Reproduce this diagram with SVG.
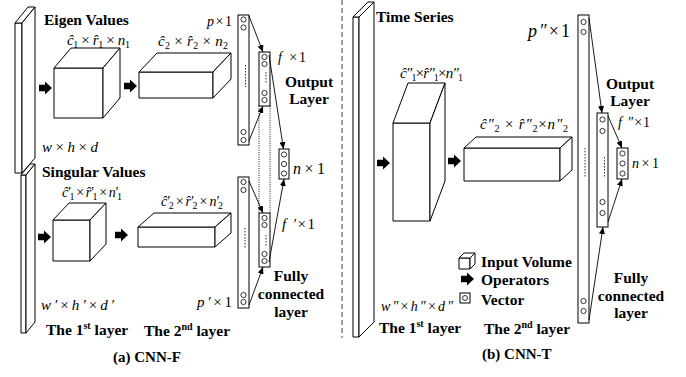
<svg xmlns="http://www.w3.org/2000/svg" width="686" height="377" viewBox="0 0 686 377">
<defs>
<style>
.b{fill:#fff;stroke:#000;stroke-width:1;stroke-linejoin:miter}
.c{fill:#fff;stroke:#000;stroke-width:0.8}
.t{font-family:Liberation Serif, DejaVu Serif, serif;font-weight:bold;font-size:15.5px;fill:#000}
.m{font-family:Liberation Serif, DejaVu Serif, serif;font-style:italic;font-size:15px;fill:#000}
.s{font-style:normal;font-size:10px}
.u{font-style:normal}
.con{stroke:#000;stroke-width:0.9;fill:none;marker-end:url(#ah)}
.dt{stroke:#000;stroke-width:0.9;stroke-dasharray:1 1.3;fill:none}
.dv{stroke:#000;stroke-width:0.8;stroke-dasharray:1.5 1.5;fill:none}
</style>
<marker id="ah" markerUnits="userSpaceOnUse" markerWidth="7" markerHeight="6" refX="7" refY="3" orient="auto"><path d="M0,0 L7,3 L0,6 Z" fill="#000"/></marker>
<path id="op" d="M0,-3.3 H6 V-6.5 L13,0 L6,6.5 V3.3 H0 Z" fill="#000"/>
</defs>
<rect width="686" height="377" fill="#fff"/>

<line x1="342" y1="0" x2="342" y2="338" stroke="#444" stroke-width="1" stroke-dasharray="5 3"/>

<g id="input-singular">
<path class="b" d="M21,175 H26 V333 H21 Z"/>
<path class="b" d="M21,175 L30,164 H35 L26,175 Z"/>
<path class="b" d="M26,175 L35,164 V322 L26,333 Z"/>
</g>
<g id="input-eigen">
<path class="b" d="M15,23 H22 V173 H15 Z"/>
<path class="b" d="M15,23 L28,7 H35 L22,23 Z"/>
<path class="b" d="M22,23 L35,7 V158 L22,173 Z"/>
</g>
<g id="eigen-conv1">
<path class="b" d="M54,68 H103 V118 H54 Z"/>
<path class="b" d="M54,68 L71,48 H120 L103,68 Z"/>
<path class="b" d="M103,68 L120,48 V98 L103,118 Z"/>
</g>
<g id="eigen-conv2">
<path class="b" d="M139,72 H213 V98 H139 Z"/>
<path class="b" d="M139,72 L157,53 H231 L213,72 Z"/>
<path class="b" d="M213,72 L231,53 V79 L213,98 Z"/>
</g>
<g id="singular-conv1">
<path class="b" d="M53,220 H90 V261 H53 Z"/>
<path class="b" d="M53,220 L69,203 H106 L90,220 Z"/>
<path class="b" d="M90,220 L106,203 V244 L90,261 Z"/>
</g>
<g id="singular-conv2">
<path class="b" d="M138,227 H215 V247 H138 Z"/>
<path class="b" d="M138,227 L154,213 H231 L215,227 Z"/>
<path class="b" d="M215,227 L231,213 V233 L215,247 Z"/>
</g>
<g id="vec-p">
<rect class="b" x="238" y="15" width="11" height="130"/>
<circle class="c" cx="243.5" cy="19.5" r="2.6"/><circle class="c" cx="243.5" cy="27.5" r="2.6"/>
<circle class="c" cx="243.5" cy="132" r="2.6"/><circle class="c" cx="243.5" cy="140" r="2.6"/>
<line class="dv" x1="245.5" y1="65" x2="245.5" y2="87"/>
</g>
<g id="vec-f">
<rect class="b" x="259" y="52" width="11" height="54"/>
<circle class="c" cx="264.5" cy="57" r="2.6"/><circle class="c" cx="264.5" cy="64" r="2.6"/>
<circle class="c" cx="264.5" cy="93" r="2.6"/><circle class="c" cx="264.5" cy="100" r="2.6"/>
<line class="dv" x1="266" y1="72" x2="266" y2="84"/>
</g>
<g id="vec-n-a">
<rect class="b" x="279" y="149" width="10" height="30"/>
<circle class="c" cx="284" cy="154.5" r="2.6"/><circle class="c" cx="284" cy="164" r="2.6"/><circle class="c" cx="284" cy="173.5" r="2.6"/>
</g>
<g id="vec-f2">
<rect class="b" x="259" y="213" width="11" height="54"/>
<circle class="c" cx="264.5" cy="218" r="2.6"/><circle class="c" cx="264.5" cy="225" r="2.6"/>
<circle class="c" cx="264.5" cy="254" r="2.6"/><circle class="c" cx="264.5" cy="261" r="2.6"/>
<line class="dv" x1="266" y1="235" x2="266" y2="246"/>
</g>
<g id="vec-p2">
<rect class="b" x="238" y="177" width="11" height="131"/>
<circle class="c" cx="243.5" cy="182" r="2.6"/><circle class="c" cx="243.5" cy="190" r="2.6"/>
<circle class="c" cx="243.5" cy="295" r="2.6"/><circle class="c" cx="243.5" cy="302" r="2.6"/>
<line class="dv" x1="245" y1="228" x2="245" y2="248"/>
</g>

<g id="input-time">
<path class="b" d="M353,17 H359 V337 H353 Z"/>
<path class="b" d="M353,17 L368,2 H374 L359,17 Z"/>
<path class="b" d="M359,17 L374,2 V322 L359,337 Z"/>
</g>
<g id="time-conv1">
<path class="b" d="M393,123 H430 V221 H393 Z"/>
<path class="b" d="M393,123 L408,83 H445 L430,123 Z"/>
<path class="b" d="M430,123 L445,83 V181 L430,221 Z"/>
</g>
<g id="time-conv2">
<path class="b" d="M464,148 H560 V181 H464 Z"/>
<path class="b" d="M464,148 L476,137 H572 L560,148 Z"/>
<path class="b" d="M560,148 L572,137 V170 L560,181 Z"/>
</g>
<g id="vec-p3">
<rect class="b" x="578" y="15" width="11" height="308"/>
<circle class="c" cx="583.5" cy="22" r="2.6"/><circle class="c" cx="583.5" cy="32" r="2.6"/>
<circle class="c" cx="583.5" cy="301" r="2.6"/><circle class="c" cx="583.5" cy="311" r="2.6"/>
<line class="dv" x1="585" y1="148" x2="585" y2="178"/>
</g>
<g id="vec-f3">
<rect class="b" x="597" y="113" width="11" height="114"/>
<circle class="c" cx="602.5" cy="119.5" r="2.6"/><circle class="c" cx="602.5" cy="131" r="2.6"/>
<circle class="c" cx="602.5" cy="202" r="2.6"/><circle class="c" cx="602.5" cy="213" r="2.6"/>
<line class="dv" x1="604.5" y1="157" x2="604.5" y2="178"/>
</g>
<g id="vec-n-b">
<rect class="b" x="617" y="148" width="11" height="31"/>
<circle class="c" cx="622.5" cy="153.5" r="2.6"/><circle class="c" cx="622.5" cy="163.5" r="2.6"/><circle class="c" cx="622.5" cy="173.5" r="2.6"/>
</g>

<g id="legend">
<path class="b" d="M459,258 H470 V269 H459 Z"/>
<path class="b" d="M459,258 L464,253 H475 L470,258 Z"/>
<path class="b" d="M470,258 L475,253 V264 L470,269 Z"/>
<use href="#op" x="461" y="279"/>
<rect class="b" x="460" y="293" width="10" height="10"/>
<circle class="c" cx="465" cy="298" r="2.5"/>
<text class="t" x="481" y="267">Input Volume</text>
<text class="t" x="481" y="285">Operators</text>
<text class="t" x="481" y="305">Vector</text>
</g>

<g id="connectors">
<use href="#op" x="39" y="88"/>
<use href="#op" x="124" y="86"/>
<use href="#op" x="38" y="237"/>
<use href="#op" x="115" y="235"/>
<use href="#op" x="377" y="163"/>
<use href="#op" x="448" y="161"/>
<line class="con" x1="249" y1="16" x2="263" y2="52"/>
<line class="con" x1="249" y1="141" x2="263" y2="106"/>
<line class="con" x1="269" y1="55" x2="283.5" y2="149"/>
<line class="con" x1="249" y1="181" x2="263" y2="213"/>
<line class="con" x1="249" y1="305" x2="263" y2="267"/>
<line class="con" x1="269" y1="262" x2="284" y2="179"/>
<line class="dt" x1="259" y1="106" x2="259" y2="213"/>
<line class="dt" x1="270" y1="106" x2="270" y2="213"/>
<line class="con" x1="589" y1="18" x2="602" y2="113"/>
<line class="con" x1="608" y1="116" x2="622" y2="148"/>
<line class="con" x1="608" y1="222" x2="622" y2="179"/>
<line class="con" x1="589" y1="320" x2="603" y2="227"/>
</g>

<g id="labels">
<text class="t" x="44" y="25">Eigen Values</text>
<text class="t" x="42" y="177">Singular Values</text>
<text class="t" x="309" y="87" text-anchor="middle">Output</text>
<text class="t" x="309" y="104" text-anchor="middle">Layer</text>
<text class="t" x="291" y="281" text-anchor="middle">Fully</text>
<text class="t" x="291" y="299" text-anchor="middle">connected</text>
<text class="t" x="291" y="317" text-anchor="middle">layer</text>
<text class="t" x="46" y="335">The 1<tspan font-size="10" dy="-6">st</tspan><tspan dy="6"> layer</tspan></text>
<text class="t" x="144" y="336">The 2<tspan font-size="10" dy="-6">nd</tspan><tspan dy="6"> layer</tspan></text>
<text class="t" x="113" y="362" style="font-size:15px">(a) CNN-F</text>

<text class="t" x="376" y="22">Time Series</text>
<text class="t" x="630" y="89" text-anchor="middle">Output</text>
<text class="t" x="630" y="106" text-anchor="middle">Layer</text>
<text class="t" x="631" y="283" text-anchor="middle">Fully</text>
<text class="t" x="631" y="301" text-anchor="middle">connected</text>
<text class="t" x="631" y="318" text-anchor="middle">layer</text>
<text class="t" x="379" y="333">The 1<tspan font-size="10" dy="-6">st</tspan><tspan dy="6"> layer</tspan></text>
<text class="t" x="484" y="334">The 2<tspan font-size="10" dy="-6">nd</tspan><tspan dy="6"> layer</tspan></text>
<text class="t" x="482" y="359" style="font-size:15px">(b) CNN-T</text>

<text class="m" x="67" y="45" textLength="63" lengthAdjust="spacing">ĉ<tspan class="s" dy="3">1</tspan><tspan class="u" dy="-3"> × </tspan>r̂<tspan class="s" dy="3">1</tspan><tspan class="u" dy="-3"> × </tspan>n<tspan class="s" dy="3">1</tspan></text>
<text class="m" x="158" y="46" textLength="70" lengthAdjust="spacing">ĉ<tspan class="s" dy="3">2</tspan><tspan class="u" dy="-3"> × </tspan>r̂<tspan class="s" dy="3">2</tspan><tspan class="u" dy="-3"> × </tspan>n<tspan class="s" dy="3">2</tspan></text>
<text class="m" x="207" y="26" style="font-size:14px" textLength="25" lengthAdjust="spacing">p<tspan class="u">×1</tspan></text>
<text class="m" x="278" y="62" style="font-size:14px" textLength="28" lengthAdjust="spacing">f <tspan class="u">×1</tspan></text>
<text class="m" x="293" y="174" style="font-size:16px" textLength="32" lengthAdjust="spacing">n<tspan class="u">×1</tspan></text>
<text class="m" x="42" y="152" textLength="56" lengthAdjust="spacing">w<tspan class="u">×</tspan>h<tspan class="u">×</tspan>d</text>
<text class="m" x="62" y="197" style="font-size:14px" textLength="60" lengthAdjust="spacing">ĉ′<tspan class="s" dy="3">1</tspan><tspan class="u" dy="-3"> × </tspan>r̂′<tspan class="s" dy="3">1</tspan><tspan class="u" dy="-3"> × </tspan>n′<tspan class="s" dy="3">1</tspan></text>
<text class="m" x="161" y="206" style="font-size:14px" textLength="62" lengthAdjust="spacing">ĉ′<tspan class="s" dy="3">2</tspan><tspan class="u" dy="-3"> × </tspan>r̂′<tspan class="s" dy="3">2</tspan><tspan class="u" dy="-3"> × </tspan>n′<tspan class="s" dy="3">2</tspan></text>
<text class="m" x="282" y="229" textLength="33" lengthAdjust="spacing">f ′<tspan class="u">×1</tspan></text>
<text class="m" x="197" y="307" textLength="35" lengthAdjust="spacing">p′<tspan class="u">×1</tspan></text>
<text class="m" x="41" y="310" textLength="73" lengthAdjust="spacing">w′<tspan class="u">×</tspan>h′<tspan class="u">×</tspan>d′</text>

<text class="m" x="400" y="78" textLength="63" lengthAdjust="spacing">ĉ″<tspan class="s" dy="3">1</tspan><tspan class="u" dy="-3">×</tspan>r̂″<tspan class="s" dy="3">1</tspan><tspan class="u" dy="-3">×</tspan>n″<tspan class="s" dy="3">1</tspan></text>
<text class="m" x="480" y="129" textLength="88" lengthAdjust="spacing">ĉ″<tspan class="s" dy="3">2</tspan><tspan class="u" dy="-3"> × </tspan>r̂″<tspan class="s" dy="3">2</tspan><tspan class="u" dy="-3">×</tspan>n″<tspan class="s" dy="3">2</tspan></text>
<text class="m" x="528" y="37" style="font-size:18px" textLength="42" lengthAdjust="spacing">p″<tspan class="u">×1</tspan></text>
<text class="m" x="618" y="127" style="font-size:14px" textLength="32" lengthAdjust="spacing">f ″<tspan class="u">×1</tspan></text>
<text class="m" x="632" y="168" style="font-size:14px" textLength="27" lengthAdjust="spacing">n<tspan class="u">×1</tspan></text>
<text class="m" x="381" y="311" style="font-size:14px" textLength="72" lengthAdjust="spacing">w″<tspan class="u">×</tspan>h″<tspan class="u">×</tspan>d″</text>
</g>
</svg>
